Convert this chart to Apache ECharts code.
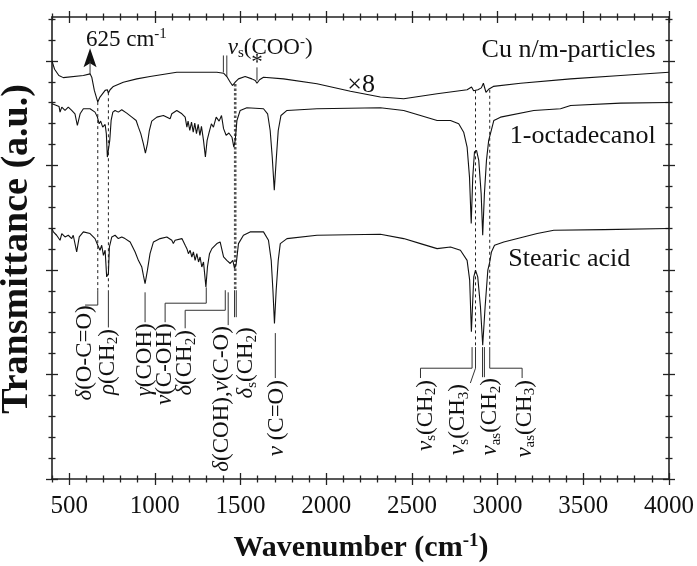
<!DOCTYPE html>
<html>
<head>
<meta charset="utf-8">
<script src="https://cdn.jsdelivr.net/npm/echarts@6/dist/echarts.min.js"></script>
<style>
html, body { margin: 0; padding: 0; background: #fff; }
#main { width: 697px; height: 566px; }
</style>
</head>
<body>
<div id="main"></div>
<script>
// FTIR spectra, [wavenumber (cm-1), transmittance (a.u., stacked)]
const cuParticles = [
  [400, 20.0], [415, 19.6], [440, 19.3], [466, 19.2], [583, 19.30], [622, 19.38], [632, 19.22],
  [647, 18.59], [667, 18.03], [680, 18.27], [710, 18.59], [723, 18.62], [729, 18.46], [739, 18.62],
  [758, 18.78], [816, 18.98], [895, 19.14], [972, 19.25], [1128, 19.46], [1264, 19.46], [1362, 19.46],
  [1401, 19.41], [1420, 19.25], [1440, 18.98], [1453, 18.82], [1469, 18.98], [1488, 19.14], [1527, 19.25],
  [1566, 19.14], [1586, 19.06], [1596, 18.93], [1611, 19.10], [1634, 19.22], [1751, 19.14], [1946, 18.91],
  [2141, 18.55], [2316, 18.27], [2452, 18.19], [2647, 18.43], [2822, 18.62], [2848, 18.75], [2860, 18.57],
  [2885, 18.62], [2905, 18.71], [2917, 18.93], [2932, 18.50], [2950, 18.66], [2975, 18.78], [3134, 18.93],
  [3426, 19.14], [3718, 19.30], [4000, 19.46]
];
const octadecanol = [
  [400, 17.95], [427, 17.87], [441, 17.82], [447, 17.55], [457, 17.79], [476, 17.63], [495, 17.79],
  [515, 17.63], [534, 17.47], [548, 16.91], [564, 17.47], [583, 17.71], [622, 17.71], [651, 17.55],
  [665, 17.31], [675, 16.99], [684, 17.12], [696, 16.83], [710, 16.96], [717, 16.52], [723, 15.40],
  [731, 15.32], [737, 16.20], [745, 17.15], [755, 17.55], [768, 17.63], [787, 17.55], [807, 17.66],
  [836, 17.50], [866, 17.31], [891, 17.15], [904, 16.83], [918, 16.52], [933, 16.04], [945, 15.59],
  [957, 16.04], [968, 16.67], [982, 17.12], [1012, 17.31], [1050, 17.39], [1089, 17.23], [1099, 17.47],
  [1128, 17.63], [1158, 17.47], [1177, 17.31], [1187, 16.83], [1194, 17.12], [1204, 16.67], [1214, 17.07],
  [1224, 16.59], [1233, 17.02], [1243, 16.52], [1253, 16.96], [1263, 16.44], [1272, 16.87], [1284, 16.20],
  [1295, 15.40], [1305, 16.20], [1317, 16.59], [1330, 16.99], [1342, 16.83], [1358, 17.31], [1375, 17.12],
  [1389, 17.39], [1401, 16.76], [1416, 16.44], [1432, 16.55], [1450, 16.35], [1461, 15.88], [1469, 16.20],
  [1479, 17.15], [1498, 17.63], [1537, 17.76], [1634, 17.71], [1658, 17.47], [1673, 16.67], [1685, 15.40],
  [1697, 13.81], [1708, 15.24], [1720, 16.67], [1736, 17.39], [1771, 17.63], [1946, 17.71], [2316, 17.76],
  [2452, 17.63], [2550, 17.39], [2647, 17.15], [2725, 17.15], [2773, 16.99], [2802, 16.59], [2822, 15.88],
  [2836, 14.44], [2846, 12.22], [2855, 14.44], [2865, 15.64], [2877, 15.72], [2890, 15.24], [2904, 13.65],
  [2913, 11.66], [2923, 13.65], [2935, 15.24], [2948, 16.20], [2958, 16.28], [2968, 16.83], [2978, 17.15],
  [3017, 17.31], [3211, 17.63], [3367, 17.71], [3426, 17.87], [3718, 17.98], [4000, 18.01]
];
const stearicAcid = [
  [400, 11.98], [408, 11.82], [427, 11.66], [447, 11.42], [457, 11.74], [476, 11.58], [495, 11.66],
  [515, 11.50], [524, 11.66], [544, 10.86], [559, 11.58], [583, 11.82], [622, 11.74], [651, 11.50],
  [667, 11.18], [680, 10.94], [690, 11.18], [700, 10.70], [710, 10.94], [719, 9.67], [729, 9.83],
  [735, 11.10], [749, 11.58], [768, 11.66], [787, 11.50], [807, 11.58], [826, 11.50], [856, 11.34],
  [885, 10.86], [904, 10.46], [924, 10.14], [933, 9.75], [943, 9.35], [957, 9.99], [972, 10.78],
  [992, 11.34], [1031, 11.50], [1070, 11.58], [1099, 11.42], [1108, 11.26], [1118, 11.42], [1158, 11.50],
  [1177, 11.18], [1187, 11.02], [1196, 10.78], [1206, 10.94], [1216, 10.62], [1225, 10.86], [1235, 10.46],
  [1245, 10.78], [1255, 10.38], [1264, 10.62], [1274, 10.14], [1284, 10.38], [1298, 9.19], [1307, 10.14],
  [1319, 10.78], [1333, 11.02], [1342, 10.94], [1362, 11.26], [1381, 11.34], [1401, 10.62], [1420, 10.46],
  [1440, 10.31], [1455, 10.46], [1465, 10.07], [1475, 10.31], [1488, 11.26], [1517, 11.66], [1556, 11.82],
  [1634, 11.82], [1663, 11.42], [1679, 10.46], [1689, 9.03], [1698, 7.44], [1708, 9.03], [1720, 10.46],
  [1732, 11.26], [1771, 11.50], [1946, 11.66], [2316, 11.71], [2452, 11.50], [2550, 11.26], [2647, 11.02],
  [2725, 11.10], [2783, 10.94], [2822, 10.46], [2837, 9.51], [2847, 7.04], [2855, 8.55], [2861, 9.67],
  [2871, 9.99], [2884, 9.67], [2900, 8.23], [2913, 6.40], [2927, 8.23], [2943, 9.99], [2954, 10.38],
  [2964, 10.86], [2982, 11.18], [3036, 11.34], [3231, 11.74], [3328, 11.90], [3620, 11.93], [4000, 11.98]
];

const xMajorTicks = [500, 1000, 1500, 2000, 2500, 3000, 3500, 4000];
const xMinorTicks = [400, 600, 700, 800, 900, 1100, 1200, 1300, 1400, 1600, 1700, 1800, 1900,
  2100, 2200, 2300, 2400, 2600, 2700, 2800, 2900, 3100, 3200, 3300, 3400, 3600, 3700, 3800, 3900];
const yMajorTicks = [0, 5, 10, 15, 20];
const yMinorTicks = [1, 2, 3, 4, 6, 7, 8, 9, 11, 12, 13, 14, 16, 17, 18, 19, 21, 22];

// guide lines from the bands down to the assignments
const dashedGuides = [
  [[667, 18.03], [667, 9.03]],
  [[729, 18.50], [729, 9.03]],
  [[2871, 18.59], [2871, 6.31]],
  [[2954, 18.62], [2954, 6.31]]
];
const dottedGuides = [
  [[1469, 18.9], [1469, 9.03]]
];
const brackets = [
  [[667, 9.03], [667, 8.32], [593, 8.32]],
  [[729, 9.03], [729, 7.25]],
  [[943, 8.93], [943, 7.50]],
  [[1300, 9.17], [1300, 8.41], [1060, 8.41], [1060, 7.50]],
  [[1411, 9.03], [1411, 8.07], [1177, 8.07], [1177, 7.21]],
  [[1428, 8.93], [1428, 7.36]],
  [[1465, 9.03], [1465, 7.74]],
  [[1475, 9.03], [1475, 7.74]],
  [[1703, 6.98], [1703, 4.83]],
  [[2851, 6.31], [2851, 5.30], [2550, 5.30], [2550, 4.83]],
  [[2871, 6.31], [2871, 5.30], [2841, 4.59]],
  [[2912, 6.31], [2912, 4.87]],
  [[2923, 6.31], [2923, 4.87]],
  [[2954, 6.31], [2954, 5.30], [3143, 5.30], [3143, 4.83]],
  [[1400, 20.26], [1400, 19.45]],
  [[1420, 20.26], [1420, 19.25]],
  [[1596, 19.69], [1596, 19.06]],
  [[622, 20.0], [622, 19.38]]
];

// rotated band assignments: text, wavenumber of the label axis, value of its top end
const bandLabels = [
  ['{g|δ}{n|(O-C=O)}', 593, 8.31],
  ['{g|ρ}{n|(CH}{sub|2}{n|)}', 727, 7.17],
  ['{g|γ}{n|(COH)}', 943, 7.45],
  ['{g|ν}{n|(C-OH)}', 1060, 7.45],
  ['{g|δ}{n|(CH}{sub|2}{n|)}', 1177, 7.12],
  ['{g|δ}{n|(COH),}{g|ν}{n|(C-O)}', 1393, 7.31],
  ['{g|δ}{sub|s}{n|(CH}{sub|2}{n|)}', 1533, 7.26],
  ['{g|ν}{n| (C=O)}', 1714, 4.73],
  ['{g|ν}{sub|s}{n|(CH}{sub|2}{n|)}', 2579, 4.73],
  ['{g|ν}{sub|s}{n|(CH}{sub|3}{n|)}', 2771, 4.54],
  ['{g|ν}{sub|as}{n|(CH}{sub|2}{n|)}', 2958, 4.83],
  ['{g|ν}{sub|as}{n|(CH}{sub|3}{n|)}', 3157, 4.73]
];
// horizontal texts: text, x, y, align
const plainLabels = [
  ['{n|625 cm}{sup|-1}', 598, 21.02, 'left'],
  ['{g|ν}{sub|s}{n|(COO}{sup|-}{n|)}', 1425, 20.64, 'left'],
  ['{n|*}', 1596, 19.92, 'center'],
  ['{b|×8}', 2123, 18.82, 'left'],
  ['{b|Cu n/m-particles}', 3922, 20.5, 'right'],
  ['{b|1-octadecanol}', 3922, 16.39, 'right'],
  ['{b|Stearic acid}', 3062, 10.51, 'left']
];

const ink = '#111';
const serif = 'Liberation Serif';
const rich = {
  g: { fontFamily: serif, fontStyle: 'italic', fontSize: 23, lineHeight: 26, fill: ink },
  n: { fontFamily: serif, fontSize: 23, lineHeight: 26, fill: ink },
  b: { fontFamily: serif, fontSize: 26, lineHeight: 28, fill: ink },
  sub: { fontFamily: serif, fontSize: 15, lineHeight: 11, verticalAlign: 'bottom', fill: ink },
  sup: { fontFamily: serif, fontSize: 15, lineHeight: 12, verticalAlign: 'top', fill: ink }
};

function tickAxis(kind, position, values, length, inside, showLine) {
  const range = kind === 'x' ? { min: 400, max: 4000 } : { min: 0, max: 22.1 };
  return Object.assign({
    type: 'value',
    position: position,
    axisLine: { show: showLine, onZero: false, lineStyle: { color: '#222', width: 1.6 } },
    axisTick: { show: true, inside: inside, length: length, customValues: values,
      lineStyle: { color: '#222', width: 1.3 } },
    axisLabel: { show: false },
    splitLine: { show: false }
  }, range);
}

const xAxes = [];
const yAxes = [];
['bottom', 'top'].forEach(function (pos) {
  xAxes.push(tickAxis('x', pos, xMajorTicks, 6, false, true));
  xAxes.push(tickAxis('x', pos, xMajorTicks, 6, true, false));
  xAxes.push(tickAxis('x', pos, xMinorTicks, 3.5, false, false));
  xAxes.push(tickAxis('x', pos, xMinorTicks, 3.5, true, false));
});
['left', 'right'].forEach(function (pos) {
  yAxes.push(tickAxis('y', pos, yMajorTicks, 6, false, true));
  yAxes.push(tickAxis('y', pos, yMajorTicks, 6, true, false));
  yAxes.push(tickAxis('y', pos, yMinorTicks, 3.5, false, false));
  yAxes.push(tickAxis('y', pos, yMinorTicks, 3.5, true, false));
});
xAxes[0].axisLabel = {
  show: true, customValues: xMajorTicks, margin: 15,
  color: ink, fontFamily: serif, fontSize: 25,
  formatter: function (v) { return String(v); }
};

function spectrum(name, data) {
  return {
    name: name, type: 'line', data: data, showSymbol: false, symbol: 'none',
    xAxisIndex: 0, yAxisIndex: 0, silent: true,
    lineStyle: { color: ink, width: 1.1 }
  };
}
function guides(data, style) {
  return {
    type: 'lines', coordinateSystem: 'cartesian2d', polyline: true, silent: true,
    xAxisIndex: 0, yAxisIndex: 0,
    data: data.map(function (c) { return { coords: c }; }),
    lineStyle: Object.assign({ opacity: 1, curveness: 0 }, style)
  };
}

const chart = echarts.init(document.getElementById('main'));
chart.setOption({
  animation: false,
  backgroundColor: '#fff',
  grid: { left: 52, right: 28, top: 17, bottom: 87 },
  xAxis: xAxes,
  yAxis: yAxes,
  series: [
    spectrum('Cu n/m-particles', cuParticles),
    spectrum('1-octadecanol', octadecanol),
    spectrum('Stearic acid', stearicAcid),
    guides(dashedGuides, { color: '#222', width: 1, type: [3, 3] }),
    guides(dottedGuides, { color: '#555', width: 2.6, type: [2.5, 2] }),
    guides(brackets, { color: '#333', width: 1 })
  ]
});

function px(p) {
  return chart.convertToPixel({ xAxisIndex: 0, yAxisIndex: 0 }, p);
}
const graphics = [];
bandLabels.forEach(function (l) {
  const p = px([l[1], l[2]]);
  graphics.push({
    type: 'text', x: p[0], y: p[1], rotation: Math.PI / 2, silent: true,
    style: { text: l[0], rich: rich, align: 'right', verticalAlign: 'middle' }
  });
});
plainLabels.forEach(function (l) {
  const p = px([l[1], l[2]]);
  graphics.push({
    type: 'text', x: p[0], y: p[1], silent: true,
    style: { text: l[0], rich: rich, align: l[3], verticalAlign: 'middle' }
  });
});
// arrow head at 625 cm-1
const tip = px([622, 20.6]);
graphics.push({
  type: 'polygon', x: tip[0], y: tip[1], silent: true,
  shape: { points: [[0, 0], [-6.5, 19], [0, 15], [6.5, 19]] },
  style: { fill: ink }
});
// axis titles
graphics.push({
  type: 'text', x: 361, y: 548, silent: true,
  style: {
    text: '{t|Wavenumber (cm}{ts|-1}{t|)}', align: 'center', verticalAlign: 'middle',
    rich: {
      t: { fontFamily: serif, fontWeight: 'bold', fontSize: 30, lineHeight: 32, fill: ink },
      ts: { fontFamily: serif, fontWeight: 'bold', fontSize: 19, lineHeight: 14, verticalAlign: 'top', fill: ink }
    }
  }
});
graphics.push({
  type: 'text', x: 17, y: 249, rotation: Math.PI / 2, silent: true,
  style: {
    text: 'Transmittance (a.u.)', align: 'center', verticalAlign: 'middle',
    fontFamily: serif, fontWeight: 'bold', fontSize: 38, fill: ink
  }
});
chart.setOption({ graphic: graphics });
</script>
</body>
</html>
